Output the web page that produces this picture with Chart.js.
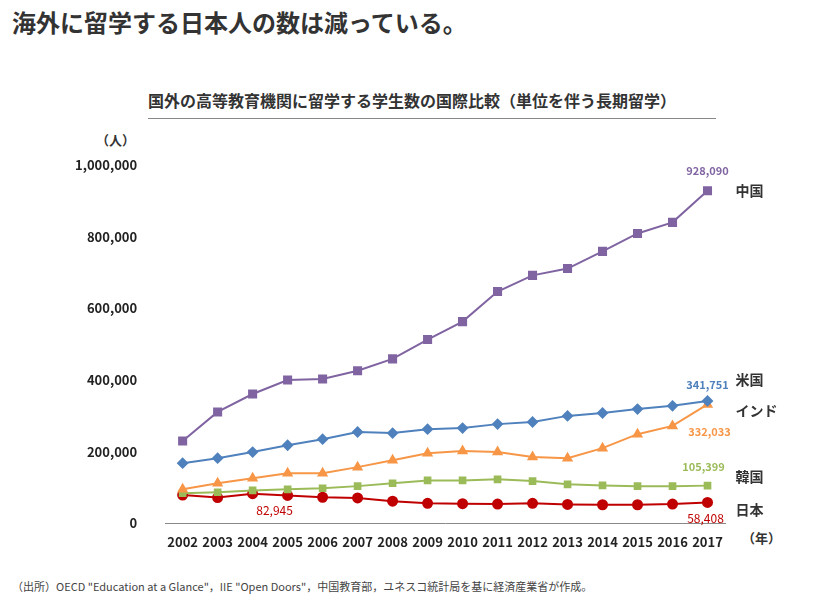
<!DOCTYPE html>
<html><head><meta charset="utf-8">
<script src="https://cdn.jsdelivr.net/npm/chart.js@4"></script>
<style>
body{margin:0;width:837px;height:597px;position:relative;font-family:"Noto Sans CJK JP",sans-serif;background:#fff;overflow:hidden}
#wrap{position:absolute;left:0;top:0;width:837px;height:597px}
.t{position:absolute;white-space:nowrap}
</style></head><body>
<div class="t" style="left:12px;top:4px;font-size:24px;font-weight:bold;color:#333">海外に留学する日本人の数は減っている。</div>
<div class="t" style="left:148px;top:88px;font-size:16px;font-weight:bold;color:#333;border-bottom:1px solid #888;padding:0 40px 6px 0">国外の高等教育機関に留学する学生数の国際比較（単位を伴う長期留学）</div>
<div class="t" style="left:96px;top:130px;font-size:13px;font-weight:bold;color:#333">（人）</div>
<div class="t" style="left:742px;top:528px;font-size:13px;font-weight:bold;color:#333">（年）</div>
<div class="t" style="left:12px;top:578px;font-size:11px;color:#444">（出所）OECD "Education at a Glance"，IIE "Open Doors"，中国教育部，ユネスコ統計局を基に経済産業省が作成。</div>
<div id="wrap"><canvas id="c" width="837" height="597"></canvas></div>
<script>
const years = ["2002","2003","2004","2005","2006","2007","2008","2009","2010","2011","2012","2013","2014","2015","2016","2017"];
const china = [230000,311000,361000,400000,403000,426000,459000,513000,563000,647000,692000,711000,759000,809000,840000,928090];
const usa = [168000,182000,199000,218000,235000,255000,252000,263000,266000,277000,283000,300000,308000,319000,328000,341751];
const india = [95000,112000,126000,140000,140000,157000,176000,196000,202000,199000,185000,182000,210000,249000,272000,332033];
const korea = [84000,87000,92000,95000,98000,104000,112000,120000,120000,123000,118000,109000,106000,104000,104000,105399];
const japan = [79000,72000,82945,78000,73000,71000,62000,56000,55000,54000,56000,53000,52000,52000,54000,58408];
const seriesNames = ["中国","米国","インド","韓国","日本"];

// labels next to the last points and value callouts
const labelPlugin = {
  id: "labels",
  afterDatasetsDraw(chart) {
    const ctx = chart.ctx;
    const x = chart.scales.x, y = chart.scales.y;
    const last = years.length - 1;
    ctx.save();
    ctx.font = "bold 14px 'Noto Sans CJK JP'";
    ctx.fillStyle = "#333";
    ctx.textBaseline = "middle";
    const nameY = [928090, 400000, 315000, 130000, 38000];
    seriesNames.forEach((n, i) => ctx.fillText(n, x.getPixelForValue(last) + 28, y.getPixelForValue(nameY[i])));
    ctx.font = "bold 11px 'Noto Sans CJK JP'";
    ctx.textAlign = "center";
    const xl = x.getPixelForValue(last);
    ctx.fillStyle = "#8064A2"; ctx.fillText("928,090", xl, y.getPixelForValue(928090) - 20);
    ctx.fillStyle = "#4F81BD"; ctx.fillText("341,751", xl, y.getPixelForValue(341751) - 16);
    ctx.fillStyle = "#F79646"; ctx.fillText("332,033", xl + 2, y.getPixelForValue(255000));
    ctx.fillStyle = "#9BBB59"; ctx.fillText("105,399", xl - 4, y.getPixelForValue(158000));
    ctx.font = "12px 'Noto Sans CJK JP'";
    ctx.fillStyle = "#C00000"; ctx.fillText("58,408", xl - 2, y.getPixelForValue(14000));
    ctx.fillText("82,945", x.getPixelForValue(2) + 22, y.getPixelForValue(35000));
    ctx.restore();
  }
};

const mk = (label, data, color, style, r) => ({
  label, data, borderColor: color, backgroundColor: color, borderWidth: 2,
  pointStyle: style, pointRadius: r, pointHoverRadius: r, tension: 0
});

new Chart(document.getElementById("c"), {
  type: "line",
  data: {
    labels: years,
    datasets: [
      mk("中国", china, "#8064A2", "rect", 5),
      mk("米国", usa, "#4F81BD", "rectRot", 4.5),
      mk("インド", india, "#F79646", "triangle", 4.5),
      mk("韓国", korea, "#9BBB59", "rect", 4),
      mk("日本", japan, "#C00000", "circle", 4.5)
    ]
  },
  plugins: [labelPlugin],
  options: {
    responsive: false, animation: false,
    layout: { padding: { left: 55, right: 112, top: 165, bottom: 41 } },
    plugins: { legend: { display: false }, tooltip: { enabled: false } },
    scales: {
      x: {
        offset: true,
        grid: { display: false, drawTicks: true, tickLength: 5, color: "#888" },
        border: { color: "#888" },
        ticks: { color: "#222", font: { size: 13, weight: "bold", family: "Noto Sans CJK JP" }, maxRotation: 0, autoSkip: false, padding: 6 }
      },
      y: {
        min: 0, max: 1000000,
        grid: { display: false },
        border: { display: false },
        ticks: { stepSize: 200000, color: "#222", padding: 20, font: { size: 13, weight: "bold", family: "Noto Sans CJK JP" },
          callback: v => v.toLocaleString("en-US") }
      }
    }
  }
});
</script>
</body></html>
